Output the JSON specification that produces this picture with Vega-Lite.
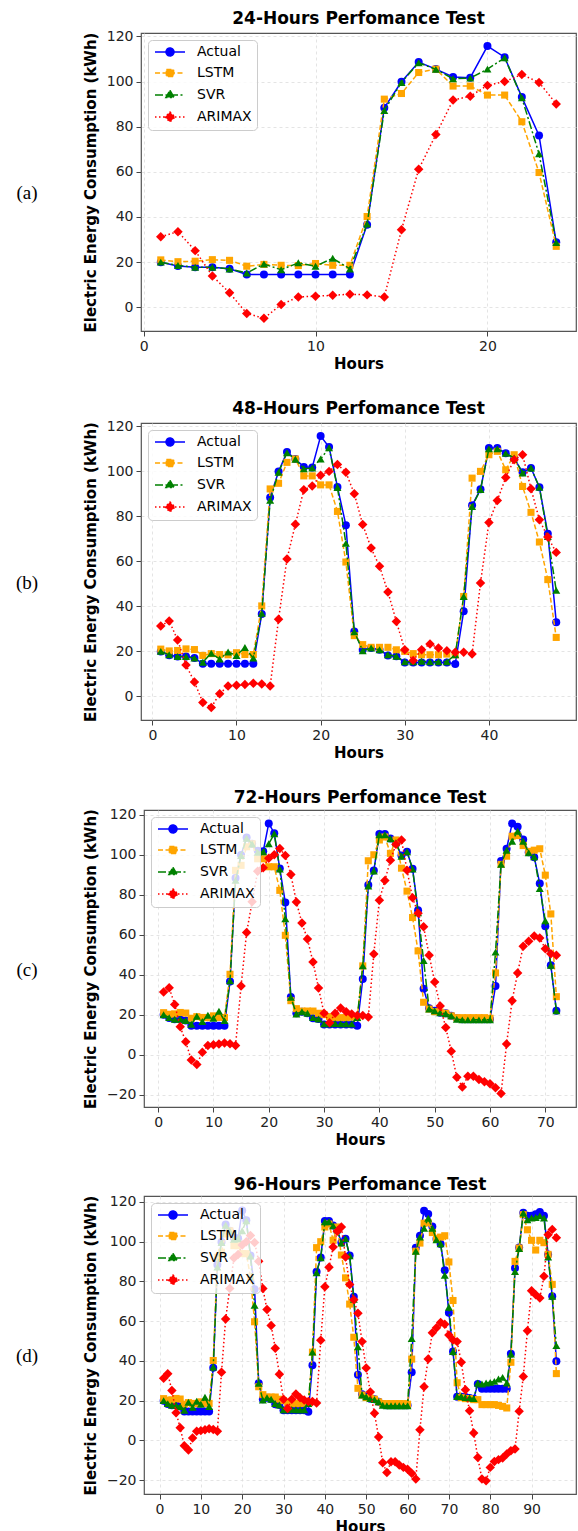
{
"$schema": "https://vega.github.io/schema/vega-lite/v6.json",
"padding": {"left": 0, "top": 9, "right": 0, "bottom": 0},
"spacing": 27,
"resolve": {"scale": {"color": "independent", "shape": "independent", "stroke": "independent", "strokeDash": "independent"}, "legend": {"color": "independent", "shape": "independent", "stroke": "independent", "strokeDash": "independent"}},
"datasets": {"load": [
{"hour":1,"Actual":20,"LSTM":21,"SVR":20,"ARIMAX":31.3},
{"hour":2,"Actual":18.3,"LSTM":20.2,"SVR":18.5,"ARIMAX":33.5},
{"hour":3,"Actual":17.7,"LSTM":20.4,"SVR":17.7,"ARIMAX":25.1},
{"hour":4,"Actual":17.7,"LSTM":21.1,"SVR":17.7,"ARIMAX":13.9},
{"hour":5,"Actual":17.1,"LSTM":20.8,"SVR":17,"ARIMAX":6.4},
{"hour":6,"Actual":14.5,"LSTM":18.2,"SVR":15.2,"ARIMAX":-2.7},
{"hour":7,"Actual":14.5,"LSTM":19,"SVR":19.2,"ARIMAX":-4.9},
{"hour":8,"Actual":14.5,"LSTM":18.6,"SVR":16.6,"ARIMAX":1.2},
{"hour":9,"Actual":14.5,"LSTM":18.5,"SVR":19.7,"ARIMAX":4.6},
{"hour":10,"Actual":14.5,"LSTM":19.4,"SVR":18.2,"ARIMAX":4.9},
{"hour":11,"Actual":14.5,"LSTM":18.6,"SVR":21.7,"ARIMAX":5.3},
{"hour":12,"Actual":14.5,"LSTM":18.6,"SVR":17,"ARIMAX":5.8},
{"hour":13,"Actual":36.6,"LSTM":40.2,"SVR":36.9,"ARIMAX":5.5},
{"hour":14,"Actual":88.4,"LSTM":92.2,"SVR":87.2,"ARIMAX":4.6},
{"hour":15,"Actual":99.9,"LSTM":94.7,"SVR":99.6,"ARIMAX":34.3},
{"hour":16,"Actual":108.6,"LSTM":104,"SVR":108.3,"ARIMAX":61.1},
{"hour":17,"Actual":105.5,"LSTM":105.5,"SVR":105.4,"ARIMAX":76.5},
{"hour":18,"Actual":102,"LSTM":98,"SVR":101.2,"ARIMAX":91.8},
{"hour":19,"Actual":101.7,"LSTM":98,"SVR":101.5,"ARIMAX":93.5},
{"hour":20,"Actual":115.7,"LSTM":94,"SVR":105.5,"ARIMAX":98.3},
{"hour":21,"Actual":110.8,"LSTM":94,"SVR":110.5,"ARIMAX":100},
{"hour":22,"Actual":93.1,"LSTM":82.2,"SVR":92.8,"ARIMAX":103.1},
{"hour":23,"Actual":76.1,"LSTM":59.7,"SVR":68,"ARIMAX":99.6},
{"hour":24,"Actual":28.8,"LSTM":27,"SVR":28.7,"ARIMAX":90.1},
{"hour":25,"Actual":20.7,"LSTM":23,"SVR":20.3,"ARIMAX":76.4},
{"hour":26,"Actual":21.5,"LSTM":21.8,"SVR":21.5,"ARIMAX":65.9},
{"hour":27,"Actual":20.7,"LSTM":21.8,"SVR":20.7,"ARIMAX":57.8},
{"hour":28,"Actual":18.2,"LSTM":21.8,"SVR":18.5,"ARIMAX":46.4},
{"hour":29,"Actual":17.8,"LSTM":20.7,"SVR":17.8,"ARIMAX":33.3},
{"hour":30,"Actual":15.1,"LSTM":20,"SVR":15.4,"ARIMAX":20.7},
{"hour":31,"Actual":15.1,"LSTM":19,"SVR":15.4,"ARIMAX":16},
{"hour":32,"Actual":15.1,"LSTM":18.5,"SVR":15.6,"ARIMAX":20.7},
{"hour":33,"Actual":15.1,"LSTM":18.5,"SVR":15.4,"ARIMAX":23.3},
{"hour":34,"Actual":15.1,"LSTM":18.5,"SVR":15.4,"ARIMAX":21.5},
{"hour":35,"Actual":15.1,"LSTM":18.8,"SVR":15.4,"ARIMAX":20.3},
{"hour":36,"Actual":14.4,"LSTM":18.5,"SVR":18.5,"ARIMAX":19.6},
{"hour":37,"Actual":37.8,"LSTM":44.4,"SVR":44.4,"ARIMAX":19.6},
{"hour":38,"Actual":84.9,"LSTM":97,"SVR":84.4,"ARIMAX":18.8},
{"hour":39,"Actual":92.1,"LSTM":100,"SVR":91.9,"ARIMAX":50.4},
{"hour":40,"Actual":110.4,"LSTM":107.4,"SVR":110,"ARIMAX":77.3},
{"hour":41,"Actual":110.4,"LSTM":108.9,"SVR":110,"ARIMAX":87.1},
{"hour":42,"Actual":108.1,"LSTM":100.7,"SVR":108,"ARIMAX":97.3},
{"hour":43,"Actual":105.8,"LSTM":107.4,"SVR":106,"ARIMAX":105.2},
{"hour":44,"Actual":99.6,"LSTM":93.3,"SVR":99.3,"ARIMAX":107.4},
{"hour":45,"Actual":101.5,"LSTM":81.8,"SVR":101.5,"ARIMAX":92.3},
{"hour":46,"Actual":93,"LSTM":68.6,"SVR":92.9,"ARIMAX":78.5},
{"hour":47,"Actual":72.3,"LSTM":51.9,"SVR":71,"ARIMAX":70.8},
{"hour":48,"Actual":33,"LSTM":26.2,"SVR":47.1,"ARIMAX":64},
{"hour":49,"Actual":23.2,"LSTM":22.8,"SVR":22.8,"ARIMAX":49.7},
{"hour":50,"Actual":21.9,"LSTM":21.5,"SVR":21.9,"ARIMAX":36.4},
{"hour":51,"Actual":21,"LSTM":21.2,"SVR":21,"ARIMAX":24.3},
{"hour":52,"Actual":20.7,"LSTM":20.7,"SVR":20.5,"ARIMAX":13.6},
{"hour":53,"Actual":19.4,"LSTM":19.4,"SVR":19.4,"ARIMAX":1.7},
{"hour":54,"Actual":18.2,"LSTM":18.5,"SVR":17.7,"ARIMAX":-11.3},
{"hour":55,"Actual":17.7,"LSTM":18.5,"SVR":17.4,"ARIMAX":-16.2},
{"hour":56,"Actual":17.7,"LSTM":18.5,"SVR":17.4,"ARIMAX":-10.8},
{"hour":57,"Actual":17.7,"LSTM":18.5,"SVR":17.4,"ARIMAX":-10.8},
{"hour":58,"Actual":17.7,"LSTM":18.5,"SVR":17.4,"ARIMAX":-12.4},
{"hour":59,"Actual":17.7,"LSTM":18.5,"SVR":17.4,"ARIMAX":-13.6},
{"hour":60,"Actual":17.7,"LSTM":18.2,"SVR":17.4,"ARIMAX":-14.6},
{"hour":61,"Actual":34.3,"LSTM":40.9,"SVR":51.3,"ARIMAX":-16.6},
{"hour":62,"Actual":96.9,"LSTM":95.2,"SVR":95.2,"ARIMAX":-19.4},
{"hour":63,"Actual":103,"LSTM":99.3,"SVR":102.3,"ARIMAX":5.3},
{"hour":64,"Actual":115.6,"LSTM":109.3,"SVR":106.8,"ARIMAX":27},
{"hour":65,"Actual":114,"LSTM":109.6,"SVR":111.8,"ARIMAX":40.9},
{"hour":66,"Actual":107.6,"LSTM":104.6,"SVR":106.8,"ARIMAX":54.2},
{"hour":67,"Actual":101.3,"LSTM":101.7,"SVR":101,"ARIMAX":56.7},
{"hour":68,"Actual":98.8,"LSTM":102.3,"SVR":99,"ARIMAX":59.3},
{"hour":69,"Actual":85.6,"LSTM":103,"SVR":83.1,"ARIMAX":58.4},
{"hour":70,"Actual":64.2,"LSTM":89.8,"SVR":67,"ARIMAX":53},
{"hour":71,"Actual":44.7,"LSTM":70.4,"SVR":44.7,"ARIMAX":50.5},
{"hour":72,"Actual":22,"LSTM":29,"SVR":22,"ARIMAX":49.7},
{"hour":73,"Actual":22,"LSTM":21.5,"SVR":22.1,"ARIMAX":39.3},
{"hour":74,"Actual":21.8,"LSTM":21,"SVR":21.6,"ARIMAX":25.5},
{"hour":75,"Actual":21.3,"LSTM":21,"SVR":21.3,"ARIMAX":14.9},
{"hour":76,"Actual":21,"LSTM":20.5,"SVR":21,"ARIMAX":3.7},
{"hour":77,"Actual":28.4,"LSTM":20.5,"SVR":28.9,"ARIMAX":-8.6},
{"hour":78,"Actual":26,"LSTM":18,"SVR":28.4,"ARIMAX":-19.5},
{"hour":79,"Actual":26,"LSTM":18,"SVR":28.9,"ARIMAX":-20.3},
{"hour":80,"Actual":26,"LSTM":18,"SVR":29.2,"ARIMAX":-13.6},
{"hour":81,"Actual":26,"LSTM":18,"SVR":29.7,"ARIMAX":-10.6},
{"hour":82,"Actual":26,"LSTM":17.6,"SVR":30.9,"ARIMAX":-9.7},
{"hour":83,"Actual":26,"LSTM":17.1,"SVR":31.7,"ARIMAX":-8.9},
{"hour":84,"Actual":26,"LSTM":16.3,"SVR":28.9,"ARIMAX":-6.9},
{"hour":85,"Actual":43.6,"LSTM":39.3,"SVR":43.5,"ARIMAX":-5.2},
{"hour":86,"Actual":86.7,"LSTM":90.1,"SVR":85,"ARIMAX":-4.4},
{"hour":87,"Actual":97.1,"LSTM":96.8,"SVR":96.5,"ARIMAX":14.6},
{"hour":88,"Actual":114.6,"LSTM":113.6,"SVR":114.4,"ARIMAX":32.2},
{"hour":89,"Actual":113,"LSTM":106,"SVR":111,"ARIMAX":55.2},
{"hour":90,"Actual":113,"LSTM":100.7,"SVR":111.9,"ARIMAX":75.3},
{"hour":91,"Actual":113.8,"LSTM":95.8,"SVR":112.2,"ARIMAX":73.3},
{"hour":92,"Actual":115,"LSTM":100.7,"SVR":113,"ARIMAX":71.6},
{"hour":93,"Actual":113,"LSTM":99.5,"SVR":111.9,"ARIMAX":82.6},
{"hour":94,"Actual":93.6,"LSTM":93.6,"SVR":92.3,"ARIMAX":103.5},
{"hour":95,"Actual":72.5,"LSTM":78.5,"SVR":72.5,"ARIMAX":106.2},
{"hour":96,"Actual":39.8,"LSTM":33.6,"SVR":47.7,"ARIMAX":102}
]},
"vconcat": [
{
 "spacing": 28,
 "resolve": {"scale": {"color": "independent", "shape": "independent", "stroke": "independent", "strokeDash": "independent"}, "legend": {"color": "independent", "shape": "independent", "stroke": "independent", "strokeDash": "independent"}},
 "hconcat": [
  {"data": {"values": [{"label": "(a)"}]}, "width": 54, "height": 298, "view": {"stroke": null},
   "mark": {"type": "text", "font": "Liberation Serif", "fontSize": 19, "dy": 11, "color": "black"},
   "encoding": {"text": {"field": "label", "type": "nominal"}}},
  {"data": {"name": "load"}, "transform": [{"filter": "datum.hour <= 24"}],
   "width": 435, "height": 298,
   "title": {"text": "24-Hours Perfomance Test"},
   "encoding": {"x": {"field": "hour", "type": "quantitative", "scale": {"domain": [-0.15, 25.15], "nice": false, "zero": false}, "axis": {"values": [0, 10, 20], "title": "Hours"}}},
   "layer": [
    {"transform": [{"filter": "false"}],
     "mark": {"type": "point", "filled": true, "opacity": 1, "strokeWidth": 1.5},
     "encoding": {
      "color": {"datum": "Actual", "type": "nominal", "scale": {"domain": ["Actual", "LSTM", "SVR", "ARIMAX"], "range": ["#0000ff", "#ffa500", "#008000", "#ff0000"]}},
      "stroke": {"datum": "Actual", "type": "nominal", "scale": {"domain": ["Actual", "LSTM", "SVR", "ARIMAX"], "range": ["#0000ff", "#ffa500", "#008000", "#ff0000"]}},
      "shape": {"datum": "Actual", "type": "nominal", "scale": {"domain": ["Actual", "LSTM", "SVR", "ARIMAX"], "range": ["M-1,0L5,0M2.8,0A0.8,0.8,0,1,1,1.2,0A0.8,0.8,0,1,1,2.8,0Z", "M-1,0L5,0M1.28,-0.72L2.72,-0.72L2.72,0.72L1.28,0.72Z", "M-1,0L5,0M2,-0.95L2.82,0.5L1.18,0.5Z", "M-1,0L5,0M2,-1L3,0L2,1L1,0Z"]}},
      "strokeDash": {"datum": "Actual", "type": "nominal", "scale": {"domain": ["Actual", "LSTM", "SVR", "ARIMAX"], "range": [[1, 0], [5, 2.5], [8, 2.5, 2, 2.5], [1.5, 2.5]]}}}},
    {"mark": {"type": "line", "strokeWidth": 1.5, "point": {"filled": true, "shape": "circle", "size": 64, "opacity": 1}},
     "encoding": {"y": {"field": "Actual", "type": "quantitative", "title": "Electric Energy Consumption (kWh)", "scale": {"domain": [-10.5, 121.5], "nice": false, "zero": false}, "axis": {"values": [0, 20, 40, 60, 80, 100, 120]}},
      "color": {"datum": "Actual", "type": "nominal"}}},
    {"mark": {"type": "line", "strokeWidth": 1.5, "strokeDash": [5, 2.5], "point": {"filled": true, "shape": "square", "size": 50, "opacity": 1}},
     "encoding": {"y": {"field": "LSTM", "type": "quantitative", "title": "Electric Energy Consumption (kWh)", "scale": {"domain": [-10.5, 121.5], "nice": false, "zero": false}, "axis": {"values": [0, 20, 40, 60, 80, 100, 120]}},
      "color": {"datum": "LSTM", "type": "nominal"}}},
    {"mark": {"type": "line", "strokeWidth": 1.5, "strokeDash": [8, 2.5, 2, 2.5], "point": {"filled": true, "shape": "triangle-up", "size": 64, "opacity": 1}},
     "encoding": {"y": {"field": "SVR", "type": "quantitative", "title": "Electric Energy Consumption (kWh)", "scale": {"domain": [-10.5, 121.5], "nice": false, "zero": false}, "axis": {"values": [0, 20, 40, 60, 80, 100, 120]}},
      "color": {"datum": "SVR", "type": "nominal"}}},
    {"mark": {"type": "line", "strokeWidth": 1.5, "strokeDash": [1.5, 2.5], "point": {"filled": true, "shape": "diamond", "size": 90, "opacity": 1}},
     "encoding": {"y": {"field": "ARIMAX", "type": "quantitative", "title": "Electric Energy Consumption (kWh)", "scale": {"domain": [-10.5, 121.5], "nice": false, "zero": false}, "axis": {"values": [0, 20, 40, 60, 80, 100, 120]}},
      "color": {"datum": "ARIMAX", "type": "nominal"}}}
   ]}
 ]
},
{
 "spacing": 28,
 "resolve": {"scale": {"color": "independent", "shape": "independent", "stroke": "independent", "strokeDash": "independent"}, "legend": {"color": "independent", "shape": "independent", "stroke": "independent", "strokeDash": "independent"}},
 "hconcat": [
  {"data": {"values": [{"label": "(b)"}]}, "width": 54, "height": 297, "view": {"stroke": null},
   "mark": {"type": "text", "font": "Liberation Serif", "fontSize": 19, "dy": 11, "color": "black"},
   "encoding": {"text": {"field": "label", "type": "nominal"}}},
  {"data": {"name": "load"}, "transform": [{"filter": "datum.hour <= 48"}],
   "width": 435, "height": 297,
   "title": {"text": "48-Hours Perfomance Test"},
   "encoding": {"x": {"field": "hour", "type": "quantitative", "scale": {"domain": [-1.35, 50.35], "nice": false, "zero": false}, "axis": {"values": [0, 10, 20, 30, 40], "title": "Hours"}}},
   "layer": [
    {"transform": [{"filter": "false"}],
     "mark": {"type": "point", "filled": true, "opacity": 1, "strokeWidth": 1.5},
     "encoding": {
      "color": {"datum": "Actual", "type": "nominal", "scale": {"domain": ["Actual", "LSTM", "SVR", "ARIMAX"], "range": ["#0000ff", "#ffa500", "#008000", "#ff0000"]}},
      "stroke": {"datum": "Actual", "type": "nominal", "scale": {"domain": ["Actual", "LSTM", "SVR", "ARIMAX"], "range": ["#0000ff", "#ffa500", "#008000", "#ff0000"]}},
      "shape": {"datum": "Actual", "type": "nominal", "scale": {"domain": ["Actual", "LSTM", "SVR", "ARIMAX"], "range": ["M-1,0L5,0M2.8,0A0.8,0.8,0,1,1,1.2,0A0.8,0.8,0,1,1,2.8,0Z", "M-1,0L5,0M1.28,-0.72L2.72,-0.72L2.72,0.72L1.28,0.72Z", "M-1,0L5,0M2,-0.95L2.82,0.5L1.18,0.5Z", "M-1,0L5,0M2,-1L3,0L2,1L1,0Z"]}},
      "strokeDash": {"datum": "Actual", "type": "nominal", "scale": {"domain": ["Actual", "LSTM", "SVR", "ARIMAX"], "range": [[1, 0], [5, 2.5], [8, 2.5, 2, 2.5], [1.5, 2.5]]}}}},
    {"mark": {"type": "line", "strokeWidth": 1.5, "point": {"filled": true, "shape": "circle", "size": 64, "opacity": 1}},
     "encoding": {"y": {"field": "Actual", "type": "quantitative", "title": "Electric Energy Consumption (kWh)", "scale": {"domain": [-10.5, 121.5], "nice": false, "zero": false}, "axis": {"values": [0, 20, 40, 60, 80, 100, 120]}},
      "color": {"datum": "Actual", "type": "nominal"}}},
    {"mark": {"type": "line", "strokeWidth": 1.5, "strokeDash": [5, 2.5], "point": {"filled": true, "shape": "square", "size": 50, "opacity": 1}},
     "encoding": {"y": {"field": "LSTM", "type": "quantitative", "title": "Electric Energy Consumption (kWh)", "scale": {"domain": [-10.5, 121.5], "nice": false, "zero": false}, "axis": {"values": [0, 20, 40, 60, 80, 100, 120]}},
      "color": {"datum": "LSTM", "type": "nominal"}}},
    {"mark": {"type": "line", "strokeWidth": 1.5, "strokeDash": [8, 2.5, 2, 2.5], "point": {"filled": true, "shape": "triangle-up", "size": 64, "opacity": 1}},
     "encoding": {"y": {"field": "SVR", "type": "quantitative", "title": "Electric Energy Consumption (kWh)", "scale": {"domain": [-10.5, 121.5], "nice": false, "zero": false}, "axis": {"values": [0, 20, 40, 60, 80, 100, 120]}},
      "color": {"datum": "SVR", "type": "nominal"}}},
    {"mark": {"type": "line", "strokeWidth": 1.5, "strokeDash": [1.5, 2.5], "point": {"filled": true, "shape": "diamond", "size": 90, "opacity": 1}},
     "encoding": {"y": {"field": "ARIMAX", "type": "quantitative", "title": "Electric Energy Consumption (kWh)", "scale": {"domain": [-10.5, 121.5], "nice": false, "zero": false}, "axis": {"values": [0, 20, 40, 60, 80, 100, 120]}},
      "color": {"datum": "ARIMAX", "type": "nominal"}}}
   ]}
 ]
},
{
 "spacing": 28,
 "resolve": {"scale": {"color": "independent", "shape": "independent", "stroke": "independent", "strokeDash": "independent"}, "legend": {"color": "independent", "shape": "independent", "stroke": "independent", "strokeDash": "independent"}},
 "hconcat": [
  {"data": {"values": [{"label": "(c)"}]}, "width": 54, "height": 297, "view": {"stroke": null},
   "mark": {"type": "text", "font": "Liberation Serif", "fontSize": 19, "dy": 11, "color": "black"},
   "encoding": {"text": {"field": "label", "type": "nominal"}}},
  {"data": {"name": "load"}, "transform": [{"filter": "datum.hour <= 72"}],
   "width": 432, "height": 297,
   "title": {"text": "72-Hours Perfomance Test"},
   "encoding": {"x": {"field": "hour", "type": "quantitative", "scale": {"domain": [-2.55, 75.55], "nice": false, "zero": false}, "axis": {"values": [0, 10, 20, 30, 40, 50, 60, 70], "title": "Hours"}}},
   "layer": [
    {"transform": [{"filter": "false"}],
     "mark": {"type": "point", "filled": true, "opacity": 1, "strokeWidth": 1.5},
     "encoding": {
      "color": {"datum": "Actual", "type": "nominal", "scale": {"domain": ["Actual", "LSTM", "SVR", "ARIMAX"], "range": ["#0000ff", "#ffa500", "#008000", "#ff0000"]}},
      "stroke": {"datum": "Actual", "type": "nominal", "scale": {"domain": ["Actual", "LSTM", "SVR", "ARIMAX"], "range": ["#0000ff", "#ffa500", "#008000", "#ff0000"]}},
      "shape": {"datum": "Actual", "type": "nominal", "scale": {"domain": ["Actual", "LSTM", "SVR", "ARIMAX"], "range": ["M-1,0L5,0M2.8,0A0.8,0.8,0,1,1,1.2,0A0.8,0.8,0,1,1,2.8,0Z", "M-1,0L5,0M1.28,-0.72L2.72,-0.72L2.72,0.72L1.28,0.72Z", "M-1,0L5,0M2,-0.95L2.82,0.5L1.18,0.5Z", "M-1,0L5,0M2,-1L3,0L2,1L1,0Z"]}},
      "strokeDash": {"datum": "Actual", "type": "nominal", "scale": {"domain": ["Actual", "LSTM", "SVR", "ARIMAX"], "range": [[1, 0], [5, 2.5], [8, 2.5, 2, 2.5], [1.5, 2.5]]}}}},
    {"mark": {"type": "line", "strokeWidth": 1.5, "point": {"filled": true, "shape": "circle", "size": 64, "opacity": 1}},
     "encoding": {"y": {"field": "Actual", "type": "quantitative", "title": "Electric Energy Consumption (kWh)", "scale": {"domain": [-26.2, 122.4], "nice": false, "zero": false}, "axis": {"values": [-20, 0, 20, 40, 60, 80, 100, 120]}},
      "color": {"datum": "Actual", "type": "nominal"}}},
    {"mark": {"type": "line", "strokeWidth": 1.5, "strokeDash": [5, 2.5], "point": {"filled": true, "shape": "square", "size": 50, "opacity": 1}},
     "encoding": {"y": {"field": "LSTM", "type": "quantitative", "title": "Electric Energy Consumption (kWh)", "scale": {"domain": [-26.2, 122.4], "nice": false, "zero": false}, "axis": {"values": [-20, 0, 20, 40, 60, 80, 100, 120]}},
      "color": {"datum": "LSTM", "type": "nominal"}}},
    {"mark": {"type": "line", "strokeWidth": 1.5, "strokeDash": [8, 2.5, 2, 2.5], "point": {"filled": true, "shape": "triangle-up", "size": 64, "opacity": 1}},
     "encoding": {"y": {"field": "SVR", "type": "quantitative", "title": "Electric Energy Consumption (kWh)", "scale": {"domain": [-26.2, 122.4], "nice": false, "zero": false}, "axis": {"values": [-20, 0, 20, 40, 60, 80, 100, 120]}},
      "color": {"datum": "SVR", "type": "nominal"}}},
    {"mark": {"type": "line", "strokeWidth": 1.5, "strokeDash": [1.5, 2.5], "point": {"filled": true, "shape": "diamond", "size": 90, "opacity": 1}},
     "encoding": {"y": {"field": "ARIMAX", "type": "quantitative", "title": "Electric Energy Consumption (kWh)", "scale": {"domain": [-26.2, 122.4], "nice": false, "zero": false}, "axis": {"values": [-20, 0, 20, 40, 60, 80, 100, 120]}},
      "color": {"datum": "ARIMAX", "type": "nominal"}}}
   ]}
 ]
},
{
 "spacing": 28,
 "resolve": {"scale": {"color": "independent", "shape": "independent", "stroke": "independent", "strokeDash": "independent"}, "legend": {"color": "independent", "shape": "independent", "stroke": "independent", "strokeDash": "independent"}},
 "hconcat": [
  {"data": {"values": [{"label": "(d)"}]}, "width": 54, "height": 298, "view": {"stroke": null},
   "mark": {"type": "text", "font": "Liberation Serif", "fontSize": 19, "dy": 11, "color": "black"},
   "encoding": {"text": {"field": "label", "type": "nominal"}}},
  {"data": {"name": "load"}, "transform": [{"filter": "datum.hour <= 96"}],
   "width": 432, "height": 298,
   "title": {"text": "96-Hours Perfomance Test"},
   "encoding": {"x": {"field": "hour", "type": "quantitative", "scale": {"domain": [-3.75, 100.75], "nice": false, "zero": false}, "axis": {"values": [0, 10, 20, 30, 40, 50, 60, 70, 80, 90], "title": "Hours"}}},
   "layer": [
    {"transform": [{"filter": "false"}],
     "mark": {"type": "point", "filled": true, "opacity": 1, "strokeWidth": 1.5},
     "encoding": {
      "color": {"datum": "Actual", "type": "nominal", "scale": {"domain": ["Actual", "LSTM", "SVR", "ARIMAX"], "range": ["#0000ff", "#ffa500", "#008000", "#ff0000"]}},
      "stroke": {"datum": "Actual", "type": "nominal", "scale": {"domain": ["Actual", "LSTM", "SVR", "ARIMAX"], "range": ["#0000ff", "#ffa500", "#008000", "#ff0000"]}},
      "shape": {"datum": "Actual", "type": "nominal", "scale": {"domain": ["Actual", "LSTM", "SVR", "ARIMAX"], "range": ["M-1,0L5,0M2.8,0A0.8,0.8,0,1,1,1.2,0A0.8,0.8,0,1,1,2.8,0Z", "M-1,0L5,0M1.28,-0.72L2.72,-0.72L2.72,0.72L1.28,0.72Z", "M-1,0L5,0M2,-0.95L2.82,0.5L1.18,0.5Z", "M-1,0L5,0M2,-1L3,0L2,1L1,0Z"]}},
      "strokeDash": {"datum": "Actual", "type": "nominal", "scale": {"domain": ["Actual", "LSTM", "SVR", "ARIMAX"], "range": [[1, 0], [5, 2.5], [8, 2.5, 2, 2.5], [1.5, 2.5]]}}}},
    {"mark": {"type": "line", "strokeWidth": 1.5, "point": {"filled": true, "shape": "circle", "size": 64, "opacity": 1}},
     "encoding": {"y": {"field": "Actual", "type": "quantitative", "title": "Electric Energy Consumption (kWh)", "scale": {"domain": [-27, 123], "nice": false, "zero": false}, "axis": {"values": [-20, 0, 20, 40, 60, 80, 100, 120]}},
      "color": {"datum": "Actual", "type": "nominal"}}},
    {"mark": {"type": "line", "strokeWidth": 1.5, "strokeDash": [5, 2.5], "point": {"filled": true, "shape": "square", "size": 50, "opacity": 1}},
     "encoding": {"y": {"field": "LSTM", "type": "quantitative", "title": "Electric Energy Consumption (kWh)", "scale": {"domain": [-27, 123], "nice": false, "zero": false}, "axis": {"values": [-20, 0, 20, 40, 60, 80, 100, 120]}},
      "color": {"datum": "LSTM", "type": "nominal"}}},
    {"mark": {"type": "line", "strokeWidth": 1.5, "strokeDash": [8, 2.5, 2, 2.5], "point": {"filled": true, "shape": "triangle-up", "size": 64, "opacity": 1}},
     "encoding": {"y": {"field": "SVR", "type": "quantitative", "title": "Electric Energy Consumption (kWh)", "scale": {"domain": [-27, 123], "nice": false, "zero": false}, "axis": {"values": [-20, 0, 20, 40, 60, 80, 100, 120]}},
      "color": {"datum": "SVR", "type": "nominal"}}},
    {"mark": {"type": "line", "strokeWidth": 1.5, "strokeDash": [1.5, 2.5], "point": {"filled": true, "shape": "diamond", "size": 90, "opacity": 1}},
     "encoding": {"y": {"field": "ARIMAX", "type": "quantitative", "title": "Electric Energy Consumption (kWh)", "scale": {"domain": [-27, 123], "nice": false, "zero": false}, "axis": {"values": [-20, 0, 20, 40, 60, 80, 100, 120]}},
      "color": {"datum": "ARIMAX", "type": "nominal"}}}
   ]}
 ]
}
],
"config": {
 "font": "DejaVu Sans",
 "view": {"stroke": "#555555", "strokeWidth": 1.2},
 "title": {"font": "DejaVu Sans", "fontSize": 17, "fontWeight": "bold", "color": "black", "offset": 1},
 "axis": {"labelFont": "DejaVu Sans", "labelFontSize": 14, "labelColor": "#222222", "labelPadding": 3, "titleFont": "DejaVu Sans", "titleFontSize": 15, "titleFontWeight": "bold", "titleColor": "black", "domain": false, "tickColor": "#444444", "tickSize": 5, "gridColor": "#dddddd", "gridDash": [3, 3], "gridWidth": 0.8},
 "axisX": {"titlePadding": 3},
 "axisY": {"titlePadding": 8},
 "legend": {"title": null, "orient": "top-left", "offset": 7, "padding": 5, "fillColor": "rgba(255,255,255,0.8)", "strokeColor": "#cccccc", "cornerRadius": 4, "labelFont": "DejaVu Sans", "labelFontSize": 14, "labelColor": "black", "labelOffset": 30, "rowPadding": 7, "symbolSize": 100, "symbolStrokeWidth": 1.5}
}
}
